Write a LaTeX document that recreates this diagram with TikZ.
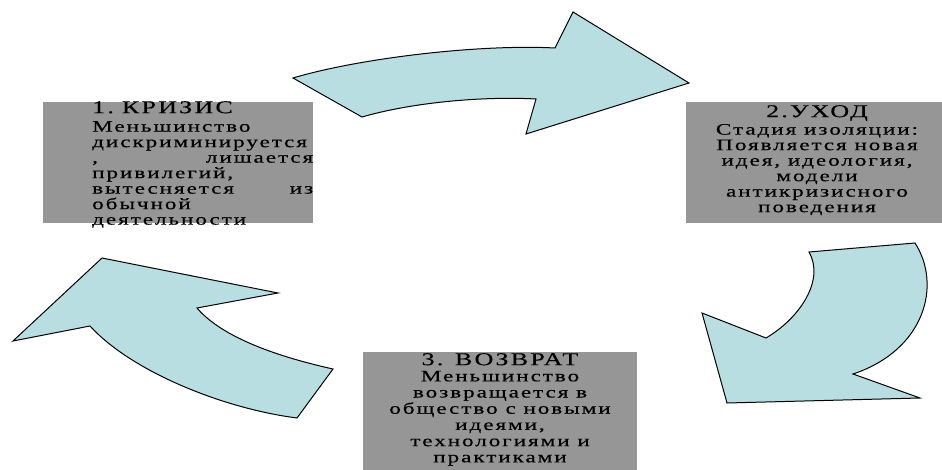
\documentclass[tikz,border=0pt]{standalone}
\usepackage{fontspec}
\newfontfamily\stagefont{Liberation Serif}[FakeStretch=1.45, LetterSpace=12, FakeBold=0.4]
\usetikzlibrary{shapes, calc}
\definecolor{panelgrey}{RGB}{150,150,150}
\definecolor{arrowcyan}{RGB}{184,222,226}
\tikzset{stagebox/.style={fill=panelgrey, inner sep=0pt, anchor=north west}}
\tikzset{stagetext/.style={inner sep=0pt, anchor=north, font=\stagefont\fontsize{16}{15.5}\selectfont}}
\tikzset{cyclearrow/.style={fill=arrowcyan, draw=black, line width=1pt, line join=miter}}
\newcommand{\stagetitle}[1]{{\fontsize{18}{15.5}\selectfont #1}}

\begin{document}
\begin{tikzpicture}[x=1pt, y=-1pt]
            \useasboundingbox (0,0) rectangle (942,470);

            \node [stagebox, minimum width=270pt, minimum height=121pt] (Bcrisis) at (43,102) {};
            \node [stagebox, minimum width=256pt, minimum height=121pt] (Bwithdraw) at (686,102) {};
            \node [stagebox, minimum width=274pt, minimum height=120pt] (Breturn) at (363,352) {};

            \node [stagetext, anchor=north west, text width=221pt, align=left] (Tcrisis) at (92,101)
                {\stagetitle{1. КРИЗИС}\\[3pt] Меньшинство\\ дискриминируется\\ ,\hfill лишается\\
                 привилегий,\\ вытесняется\hfill из\\ обычной\\ деятельности};
            \node [stagetext, align=center] (Twithdraw) at (817,105)
                {\stagetitle{2.УХОД}\\[2pt] Стадия изоляции:\\ Появляется новая\\ идея, идеология,\\
                 модели\\ антикризисного\\ поведения};
            \node [stagetext, align=center, font=\stagefont\fontsize{16}{16.2}\selectfont] (Treturn) at (500,353)
                {\stagetitle{3. ВОЗВРАТ}\\ Меньшинство\\ возвращается в\\ общество с новыми\\
                 идеями,\\ технологиями и\\ практиками};

            \draw [cyclearrow] (293,78) .. controls (360,58) and (480,44) .. (555,48)
                -- (573,12) -- (689,83) -- (526,134) -- (536,99)
                .. controls (480,96) and (410,103) .. (362,117) -- cycle;

            \draw [cyclearrow] (809,252) -- (915,243) .. controls (942,285) and (925,350) .. (853,374)
                -- (920,398) -- (727,403) -- (702,313) -- (766,338)
                .. controls (800,318) and (825,280) .. (809,252) -- cycle;

            \draw [cyclearrow] (102,258) -- (278,293) -- (197,308)
                .. controls (220,335) and (270,355) .. (333,369) -- (297,418)
                .. controls (220,408) and (130,370) .. (90,326) -- (13,341) -- cycle;
\end{tikzpicture}
\end{document}
